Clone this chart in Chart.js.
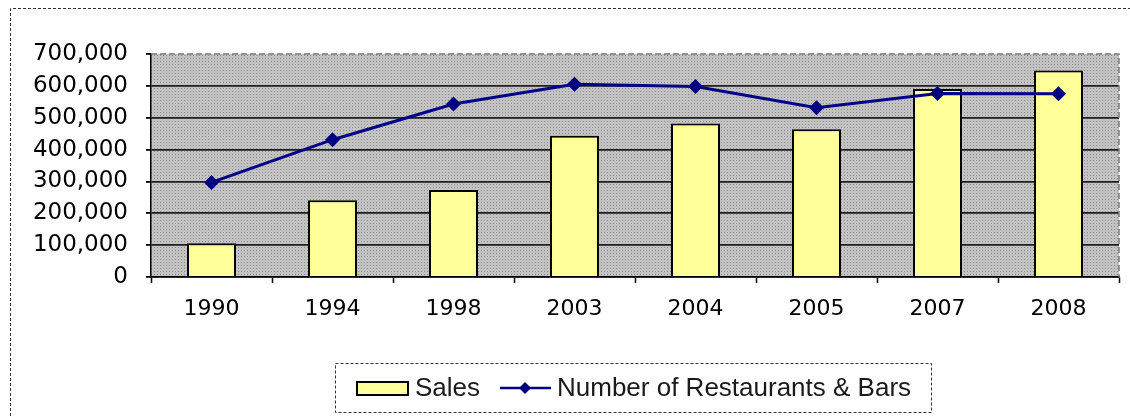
<!DOCTYPE html>
<html>
<head>
<meta charset="utf-8">
<script src="https://cdn.jsdelivr.net/npm/chart.js@4"></script>
<style>
  html, body { margin: 0; padding: 0; background: #fff; }
  #wrap { position: relative; width: 1130px; height: 416px; }
</style>
</head>
<body>
<div id="wrap"><canvas id="salesChart" width="1130" height="416"></canvas></div>
<script>
// du lieu doc tu hinh
const years = ['1990', '1994', '1998', '2003', '2004', '2005', '2007', '2008'];
const sales = [106000, 241000, 273000, 443000, 482000, 464000, 590000, 648000];
const restaurants = [297000, 431000, 543000, 605000, 598000, 531000, 576000, 575000];
const yMin = 0;
const yMax = 700000;
const yStep = 100000;

// nen xam cham cua vung ve
function makePattern(ctx) {
    const tile = document.createElement('canvas');
    tile.width = 3; tile.height = 3;
    const t = tile.getContext('2d');
    t.fillStyle = '#c2c2c2';
    t.fillRect(0, 0, 3, 3);
    t.fillStyle = '#8e8e8e';
    t.fillRect(1, 1, 1, 1);
    return ctx.createPattern(tile, 'repeat');
}

const framePlugin = {
    id: 'frame',
    beforeDraw(chart) {
        const ctx = chart.ctx;
        const a = chart.chartArea;
        ctx.save();
        // khung ngoai net dut
        ctx.strokeStyle = '#333';
        ctx.lineWidth = 1;
        ctx.setLineDash([3, 2]);
        ctx.beginPath();
        ctx.moveTo(10.5, 416);
        ctx.lineTo(10.5, 8.5);
        ctx.lineTo(1130, 8.5);
        ctx.stroke();
        ctx.setLineDash([]);
        // nen vung ve
        ctx.fillStyle = makePattern(ctx);
        ctx.fillRect(a.left, a.top, a.right - a.left, a.bottom - a.top);
        ctx.restore();
    },
    beforeDatasetsDraw(chart) {
        const ctx = chart.ctx;
        const a = chart.chartArea;
        ctx.save();
        ctx.strokeStyle = '#7a7a7a';
        ctx.lineWidth = 1.5;
        ctx.setLineDash([6, 3]);
        ctx.beginPath();
        ctx.moveTo(a.left, a.top);
        ctx.lineTo(a.right, a.top);
        ctx.lineTo(a.right, a.bottom);
        ctx.stroke();
        ctx.restore();
    }
};

// chu thich tu ve
const legendPlugin = {
    id: 'boxLegend',
    afterDraw(chart) {
        const ctx = chart.ctx;
        const ds = chart.data.datasets;
        const cy = 388;
        ctx.save();
        ctx.strokeStyle = '#333';
        ctx.lineWidth = 1;
        ctx.setLineDash([3, 2]);
        ctx.strokeRect(335.5, 363.5, 596, 49);
        ctx.setLineDash([]);

        // o mau cot
        ctx.fillStyle = ds[1].backgroundColor;
        ctx.fillRect(357, 382, 51, 13);
        ctx.strokeStyle = '#000';
        ctx.lineWidth = 2;
        ctx.strokeRect(357, 382, 51, 13);

        ctx.font = '26px "Liberation Sans", Arial, sans-serif';
        ctx.fillStyle = '#1a1a1a';
        ctx.textBaseline = 'middle';
        ctx.fillText(ds[1].label, 415, cy + 1);

        // duong va diem
        ctx.strokeStyle = ds[0].borderColor;
        ctx.lineWidth = 2.5;
        ctx.beginPath();
        ctx.moveTo(500, cy);
        ctx.lineTo(551, cy);
        ctx.stroke();
        ctx.fillStyle = ds[0].pointBackgroundColor;
        ctx.beginPath();
        ctx.moveTo(525 - 6, cy);
        ctx.lineTo(525, cy - 6);
        ctx.lineTo(525 + 6, cy);
        ctx.lineTo(525, cy + 6);
        ctx.closePath();
        ctx.fill();

        ctx.fillStyle = '#1a1a1a';
        ctx.fillText(ds[0].label, 557, cy + 1);
        ctx.restore();
    }
};

const ctx = document.getElementById('salesChart').getContext('2d');
const chart = new Chart(ctx, {
    data: {
        labels: years,
        datasets: [{
            type: 'line',
            label: 'Number of Restaurants & Bars',
            data: restaurants,
            borderColor: '#000088',
            borderWidth: 3,
            pointStyle: 'rectRot',
            pointRadius: 7.5,
            pointBackgroundColor: '#000080',
            pointBorderColor: '#000080',
            pointBorderWidth: 0,
            tension: 0,
            order: 0
        }, {
            type: 'bar',
            label: 'Sales',
            data: sales,
            backgroundColor: '#ffff99',
            borderColor: '#000',
            borderWidth: 2,
            categoryPercentage: 1,
            barPercentage: 0.405,
            order: 1
        }]
    },
    options: {
        responsive: false,
        animation: false,
        layout: { padding: { top: 54, right: 11, left: 0, bottom: 0 } },
        plugins: {
            legend: { display: false },
            title: { display: false },
            tooltip: { enabled: false }
        },
        scales: {
            x: {
                offset: true,
                grid: {
                    offset: true,
                    drawOnChartArea: false,
                    drawTicks: true,
                    tickLength: 6,
                    tickColor: '#000',
                    tickWidth: 1.5
                },
                border: { color: '#000', width: 1.5 },
                ticks: {
                    color: '#000',
                    padding: 13,
                    maxRotation: 0,
                    font: { family: '"DejaVu Sans", sans-serif', size: 22 }
                },
                afterFit: function (scale) { scale.height = 139; }
            },
            y: {
                min: yMin,
                max: yMax,
                ticks: {
                    stepSize: yStep,
                    color: '#000',
                    padding: 18,
                    font: { family: '"DejaVu Sans", sans-serif', size: 23 },
                    callback: v => v.toLocaleString('en-US')
                },
                grid: {
                    color: c => (c.tick && c.tick.value === yMax) ? 'rgba(0,0,0,0)' : '#1e1e1e',
                    lineWidth: 1.8,
                    tickLength: 5,
                    tickColor: '#000'
                },
                border: { color: '#000', width: 1.5 },
                afterFit: function (scale) { scale.width = 151; }
            }
        }
    },
    plugins: [framePlugin, legendPlugin]
});
</script>
</body>
</html>
